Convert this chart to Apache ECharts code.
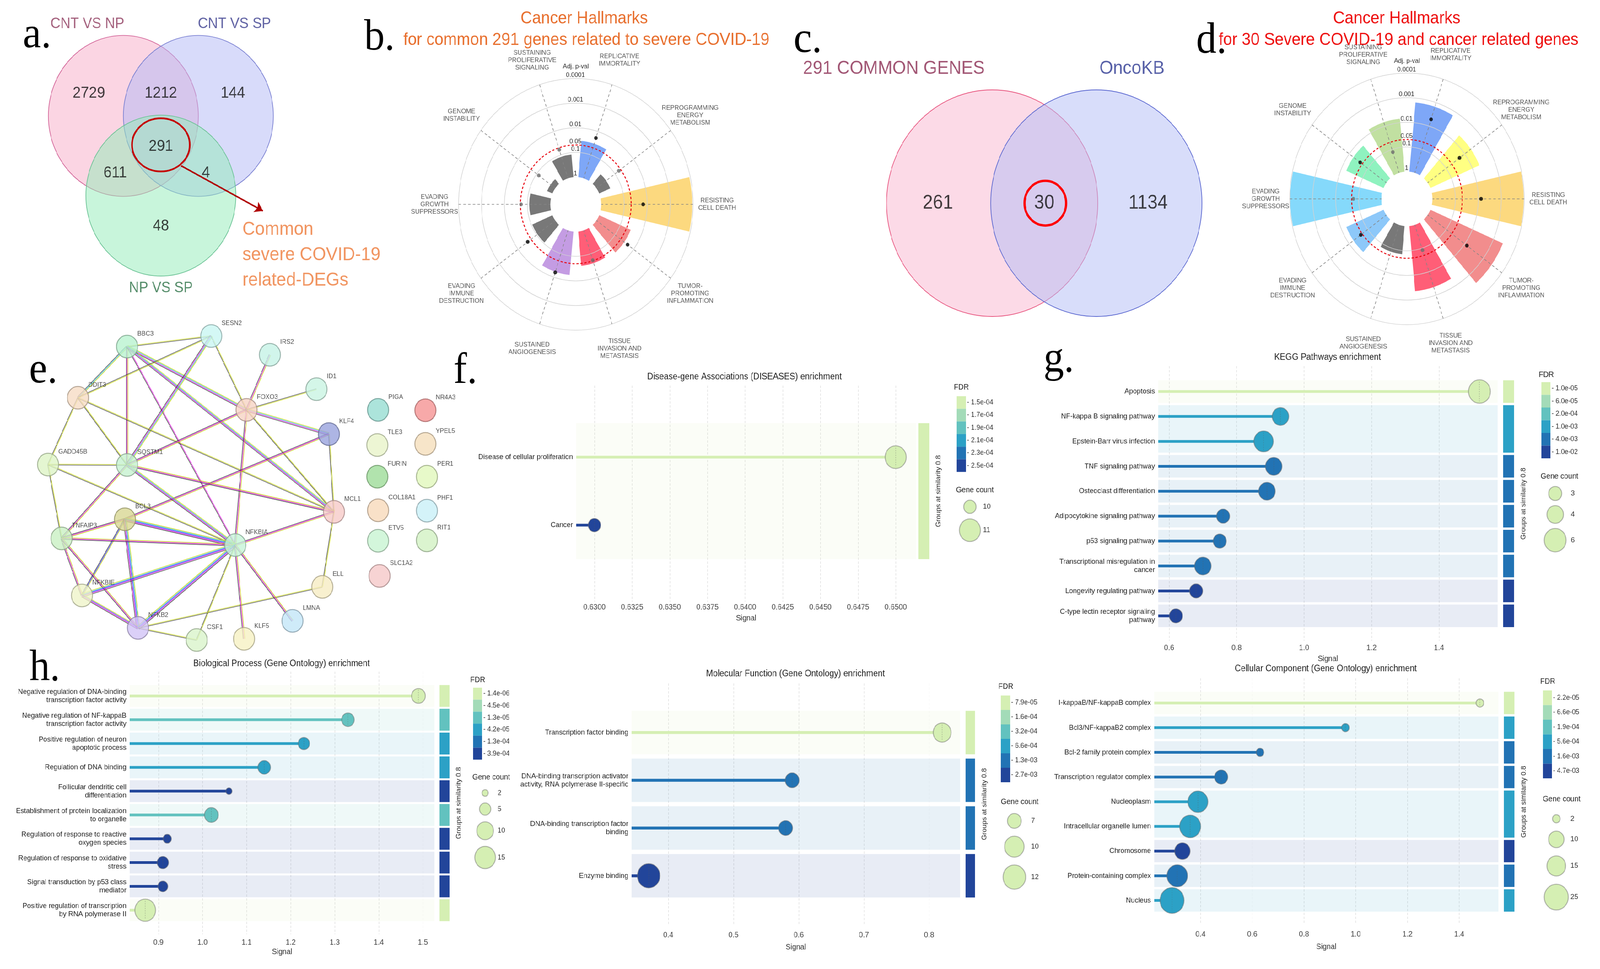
<!DOCTYPE html>
<html><head><meta charset="utf-8">
<script src="https://cdn.jsdelivr.net/npm/echarts@6/dist/echarts.min.js"></script>
<style>html,body{margin:0;padding:0;background:#fff;overflow:hidden}#chart{width:4393px;height:2480px}</style>
</head><body><div id="chart"></div>
<script>
// ================= DATA =================
// a. three-set Venn
const vennASetNames = ['CNT VS NP', 'CNT VS SP', 'NP VS SP'];
// regions: A only, A∩B, B only, A∩B∩C, A∩C, B∩C, C only
const vennARegionCounts = [2729, 1212, 144, 291, 611, 4, 48];
const vennACallout = 'Common\nsevere COVID-19\nrelated-DEGs';
// c. two-set Venn
const vennCSetNames = ['291 COMMON GENES', 'OncoKB'];
const vennCRegionCounts = [261, 30, 1134];
// b./d. cancer hallmarks (adjusted p-values)
const hallmarkNames = ['REPLICATIVE\nIMMORTALITY', 'REPROGRAMMING\nENERGY\nMETABOLISM', 'RESISTING\nCELL DEATH',
  'TUMOR-\nPROMOTING\nINFLAMMATION', 'TISSUE\nINVASION AND\nMETASTASIS', 'SUSTAINED\nANGIOGENESIS',
  'EVADING\nIMMUNE\nDESTRUCTION', 'EVADING\nGROWTH\nSUPPRESSORS', 'GENOME\nINSTABILITY', 'SUSTAINING\nPROLIFERATIVE\nSIGNALING'];
const hallmarkBarPB = [0.033, 0.30, 0.00011, 0.032, 0.040, 0.017, 0.11, 0.12, 0.56, 0.12];
const hallmarkDotPB = [0.019, 0.062, 0.015, 0.021, 0.053, 0.016, 0.033, 0.053, 0.13, 0.060];
const hallmarkBarPD = [0.0015, 0.0047, 0.000105, 0.00036, 0.0022, 0.071, 0.017, 0.000105, 0.017, 0.0069];
const hallmarkDotPD = [0.0052, 0.019, 0.0076, 0.0076, 0.083, null, 0.042, 0.060, 0.039, 0.13];
const pValueTicks = [1, 0.1, 0.05, 0.01, 0.001, 0.0001];
// e. PPI network
const ppiGenes = ['BBC3','SESN2','IRS2','ID1','DDIT3','FOXO3','KLF4','GADD45B','SQSTM1','MCL1','BCL3','TNFAIP3','NFKBIA','NFKBIE','ELL','NFKB2','LMNA','CSF1','KLF5',
  'PIGA','NR4A3','TLE3','YPEL5','FURIN','PER1','COL18A1','PHF1','ETV5','RIT1','SLC1A2'];
const ppiX = [34.9, 58.0, 74.1, 86.9, 21.4, 67.7, 90.3, 13.2, 34.9, 91.7, 34.3, 16.9, 64.6, 22.5, 88.5, 37.9, 80.3, 54.0, 67.0,
  103.8, 116.8, 103.6, 116.8, 103.6, 117.2, 103.8, 117.2, 103.8, 117.2, 104.2];
const ppiY = [8.7, 6.0, 10.8, 19.6, 21.8, 24.9, 31.1, 38.9, 39.0, 51.0, 52.9, 57.8, 59.5, 72.4, 70.2, 80.7, 78.9, 83.8, 83.5,
  24.9, 25.0, 33.9, 33.6, 42.0, 42.0, 50.6, 50.7, 58.4, 58.3, 67.4];
// evidence: t text-mining, c databases, b co-occurrence, m experiments, k co-expression
const ppiEdges = [
  ['BBC3','SESN2','tk'], ['BBC3','DDIT3','tck'], ['BBC3','SQSTM1','tmk'], ['BBC3','FOXO3','tcmk'], ['BBC3','MCL1','tcmk'], ['BBC3','NFKBIA','mk'],
  ['SESN2','DDIT3','tk'], ['SESN2','SQSTM1','tcmk'], ['SESN2','FOXO3','tk'], ['DDIT3','GADD45B','tk'], ['DDIT3','SQSTM1','tk'], ['DDIT3','MCL1','tk'],
  ['IRS2','FOXO3','tmk'], ['ID1','FOXO3','tk'], ['FOXO3','KLF4','tcmk'], ['FOXO3','SQSTM1','tmk'], ['FOXO3','NFKBIA','tmk'], ['FOXO3','MCL1','tk'],
  ['KLF4','MCL1','tk'], ['KLF4','BCL3','tmk'], ['GADD45B','SQSTM1','tk'], ['GADD45B','TNFAIP3','tk'], ['GADD45B','NFKBIA','tk'],
  ['SQSTM1','MCL1','tmk'], ['SQSTM1','NFKBIA','tcmk'], ['SQSTM1','TNFAIP3','tmk'], ['MCL1','NFKBIA','tmk'], ['MCL1','ELL','tk'],
  ['BCL3','NFKBIA','tcbmk'], ['BCL3','TNFAIP3','tmk'], ['BCL3','NFKBIE','tbk'], ['BCL3','NFKB2','tcbmk'], ['TNFAIP3','NFKBIA','tmk'],
  ['TNFAIP3','NFKBIE','tmk'], ['TNFAIP3','NFKB2','tmk'], ['NFKBIE','NFKBIA','tcbmk'], ['NFKBIE','NFKB2','tbmk'], ['NFKB2','NFKBIA','tcbmk'],
  ['NFKB2','ELL','tk'], ['NFKB2','CSF1','tk'], ['NFKBIA','CSF1','tk'], ['NFKBIA','KLF5','tmk'], ['NFKBIA','LMNA','tmk']
];
// f. DISEASES
const diseaseTerms = ['Disease of cellular proliferation', 'Cancer'];
const diseaseSignal = [0.650, 0.630];
const diseaseFDR = [1.5e-4, 2.5e-4];
const diseaseCount = [11, 10];
const diseaseGroup = [0, 0];
const diseaseFdrTicks = [1.5e-4, 1.7e-4, 1.9e-4, 2.1e-4, 2.3e-4, 2.5e-4];
const diseaseCountTicks = [10, 11];
const diseaseSignalTicks = [0.63, 0.6325, 0.635, 0.6375, 0.64, 0.6425, 0.645, 0.6475, 0.65];
// g. KEGG
const keggTerms = ['Apoptosis', 'NF-kappa B signaling pathway', 'Epstein-Barr virus infection', 'TNF signaling pathway', 'Osteoclast differentiation',
  'Adipocytokine signaling pathway', 'p53 signaling pathway', 'Transcriptional misregulation in\ncancer', 'Longevity regulating pathway', 'C-type lectin receptor signaling\npathway'];
const keggSignal = [1.52, 0.93, 0.88, 0.91, 0.89, 0.76, 0.75, 0.70, 0.68, 0.62];
const keggFDR = [1.0e-5, 1.0e-3, 1.0e-3, 4.0e-3, 4.0e-3, 4.0e-3, 4.0e-3, 4.0e-3, 1.0e-2, 1.0e-2];
const keggCount = [6, 4, 5, 4, 4, 3, 3, 4, 3, 3];
const keggGroup = [0, 1, 1, 2, 3, 4, 5, 6, 7, 8];
const keggFdrTicks = [1.0e-5, 6.0e-5, 2.0e-4, 1.0e-3, 4.0e-3, 1.0e-2];
const keggCountTicks = [3, 4, 6];
const keggSignalTicks = [0.6, 0.8, 1.0, 1.2, 1.4];
// h. GO Biological Process
const bpTerms = ['Negative regulation of DNA-binding\ntranscription factor activity', 'Negative regulation of NF-kappaB\ntranscription factor activity',
  'Positive regulation of neuron\napoptotic process', 'Regulation of DNA binding', 'Follicular dendritic cell\ndifferentiation',
  'Establishment of protein localization\nto organelle', 'Regulation of response to reactive\noxygen species', 'Regulation of response to oxidative\nstress',
  'Signal transduction by p53 class\nmediator', 'Positive regulation of transcription\nby RNA polymerase II'];
const bpSignal = [1.49, 1.33, 1.23, 1.14, 1.06, 1.02, 0.92, 0.91, 0.91, 0.87];
const bpFDR = [1.4e-6, 1.3e-5, 4.2e-5, 4.2e-5, 3.9e-4, 1.3e-5, 3.9e-4, 3.9e-4, 3.9e-4, 1.4e-6];
const bpCount = [7, 6, 5, 6, 2, 7, 3, 5, 4, 15];
const bpGroup = [0, 1, 2, 3, 4, 5, 6, 7, 8, 9];
const bpFdrTicks = [1.4e-6, 4.5e-6, 1.3e-5, 4.2e-5, 1.3e-4, 3.9e-4];
const bpCountTicks = [2, 5, 10, 15];
const bpSignalTicks = [0.9, 1.0, 1.1, 1.2, 1.3, 1.4, 1.5];
// h. GO Molecular Function
const mfTerms = ['Transcription factor binding', 'DNA-binding transcription activator\nactivity, RNA polymerase II-specific',
  'DNA-binding transcription factor\nbinding', 'Enzyme binding'];
const mfSignal = [0.82, 0.59, 0.58, 0.37];
const mfFDR = [7.9e-5, 1.3e-3, 1.3e-3, 2.7e-3];
const mfCount = [9, 7, 7, 12];
const mfGroup = [0, 1, 2, 3];
const mfFdrTicks = [7.9e-5, 1.6e-4, 3.2e-4, 6.6e-4, 1.3e-3, 2.7e-3];
const mfCountTicks = [7, 10, 12];
const mfSignalTicks = [0.4, 0.5, 0.6, 0.7, 0.8];
// h. GO Cellular Component
const ccTerms = ['I-kappaB/NF-kappaB complex', 'Bcl3/NF-kappaB2 complex', 'Bcl-2 family protein complex', 'Transcription regulator complex',
  'Nucleoplasm', 'Intracellular organelle lumen', 'Chromosome', 'Protein-containing complex', 'Nucleus'];
const ccSignal = [1.48, 0.96, 0.63, 0.48, 0.39, 0.36, 0.33, 0.31, 0.29];
const ccFDR = [2.2e-5, 5.6e-4, 1.6e-3, 1.6e-3, 5.6e-4, 5.6e-4, 4.7e-3, 1.6e-3, 5.6e-4];
const ccCount = [2, 2, 2, 7, 17, 19, 10, 18, 25];
const ccGroup = [0, 1, 2, 3, 4, 4, 5, 6, 7];
const ccFdrTicks = [2.2e-5, 6.6e-5, 1.9e-4, 5.6e-4, 1.6e-3, 4.7e-3];
const ccCountTicks = [2, 10, 15, 25];
const ccSignalTicks = [0.4, 0.6, 0.8, 1.0, 1.2, 1.4];

// ================= STYLE / LAYOUT =================
const PAGE_W = 4393, PAGE_H = 2480;
const FONT = '"Liberation Sans", Arial, Helvetica, sans-serif';
const SERIF = '"Liberation Serif", "Times New Roman", serif';
const fdrPalette = ['#D5EFB3', '#A3DBB8', '#62C2BF', '#2CA1C6', '#2273B4', '#22459A'];
const hallmarkColors = ['#7EA7F7', '#FFFF82', '#FCD97F', '#F28D8D', '#FF5E77', '#C49CE3', '#8DC8F9', '#85D9FB', '#8FF2BF', '#C1E0A1'];
const nodeFill = {BBC3:'#B9F2CF', SESN2:'#C9F6F2', IRS2:'#C6F3E6', ID1:'#C9F4E2', DDIT3:'#F6DCC4', FOXO3:'#F6D3C4', KLF4:'#98A2DD', GADD45B:'#DDF4C6',
  SQSTM1:'#C6F1CF', MCL1:'#F6CBC8', BCL3:'#D8D794', TNFAIP3:'#C9F0C3', NFKBIA:'#C5F4D8', NFKBIE:'#EFF4C9', ELL:'#F6ECC3', NFKB2:'#D2C4F6', LMNA:'#C3E6F8',
  CSF1:'#D9F4CB', KLF5:'#F6F1C3', PIGA:'#97DDD2', NR4A3:'#F59494', TLE3:'#E8F4C9', YPEL5:'#F5DEBB', FURIN:'#9EDC98', PER1:'#E1F7BC', COL18A1:'#F7D9BA',
  PHF1:'#C9F0F7', ETV5:'#C8F4D2', RIT1:'#D2F1C3', SLC1A2:'#F5C8C8'};
const evidenceColor = {t:'#C3D400', c:'#19B2D6', b:'#3333F2', m:'#E000E0', k:'#3a3a3a'};

function darken(hex, f) {
  const n = parseInt(hex.slice(1), 16);
  return 'rgb(' + Math.round(((n >> 16) & 255) * f) + ',' + Math.round(((n >> 8) & 255) * f) + ',' + Math.round((n & 255) * f) + ')';
}
function fmtE(t) {
  const parts = t.toExponential(1).split('e');
  const e = parseInt(parts[1], 10);
  return parts[0] + 'e' + (e < 0 ? '-' : '+') + String(Math.abs(e)).padStart(2, '0');
}

const option = {
  backgroundColor: '#ffffff', animation: false,
  textStyle: {fontFamily: FONT},
  title: [], grid: [], xAxis: [], yAxis: [], polar: [], angleAxis: [], radiusAxis: [], visualMap: [], series: []
};

function addText(text, x, y, size, color, o) {
  o = o || {};
  option.title.push({text: text, left: x, top: y, padding: 0, textAlign: o.align || 'left', textVerticalAlign: o.valign || 'middle',
    textStyle: {fontSize: size, color: color, fontWeight: o.weight || 'normal', fontFamily: o.family || FONT, lineHeight: o.lineHeight}});
}
function addGrid(box, xr, yr, yInverse) {
  const gi = option.grid.length;
  option.grid.push(box);
  option.xAxis.push({gridIndex: gi, type: 'value', min: xr[0], max: xr[1], show: false});
  option.yAxis.push({gridIndex: gi, type: 'value', min: yr[0], max: yr[1], inverse: !!yInverse, show: false});
  return gi;
}

// ---- panel letters ----
[['a.', 63, 92], ['b.', 1000, 98], ['c.', 2179, 104], ['d.', 3284, 106], ['e.', 80, 950], ['f.', 1245, 951], ['g.', 2865, 922], ['h.', 81, 1712]]
  .forEach(l => addText(l[0], l[1], l[2], 112, '#000', {family: SERIF}));

// ================= a. Venn =================
(function () {
  const gi = addGrid({left: 1, top: 0, width: 1038, height: 791}, [-1.64, 3.40], [-2.4, 1.44], false);
  const geom = [[0, 0], [1.0, 0], [0.5, -0.99]];
  const fills = ['rgba(247,172,200,0.5)', 'rgba(177,183,245,0.5)', 'rgba(145,235,183,0.5)'];
  const strokes = ['#D3679A', '#7C82D2', '#6BC295'];
  option.series.push({type: 'custom', xAxisIndex: gi, yAxisIndex: gi, silent: true, z: 1,
    data: geom.map(g => [g[0], g[1]]),
    renderItem: (params, api) => {
      const p = api.coord([api.value(0), api.value(1)]);
      const r = api.size([1, 0])[0];
      return {type: 'circle', shape: {cx: p[0], cy: p[1], r: r}, style: {fill: fills[params.dataIndex], stroke: strokes[params.dataIndex], lineWidth: 1.8}};
    }});
  option.series.push({type: 'custom', xAxisIndex: gi, yAxisIndex: gi, silent: true, z: 3, data: [[0.5, -0.36]],
    renderItem: (params, api) => {
      const p = api.coord([api.value(0), api.value(1)]);
      return {type: 'ellipse', shape: {cx: p[0], cy: p[1], rx: api.size([0.385, 0])[0], ry: api.size([0, 0.33])[1]}, style: {fill: 'none', stroke: '#C40000', lineWidth: 4.5}};
    }});
  option.series.push({type: 'lines', coordinateSystem: 'cartesian2d', xAxisIndex: gi, yAxisIndex: gi, z: 3, silent: true,
    symbol: ['none', 'arrow'], symbolSize: 22, lineStyle: {color: '#B00000', width: 4, opacity: 1},
    data: [{coords: [[0.77, -0.62], [1.86, -1.18]]}]});
  const setPos = [[-0.48, 1.14], [1.48, 1.14], [0.5, -2.14]];
  const setCol = ['#8E3B5E', '#3C3F8F', '#2A7045'];
  const regPos = [[-0.46, 0.28], [0.5, 0.28], [1.46, 0.28], [0.5, -0.38], [-0.11, -0.71], [1.1, -0.71], [0.5, -1.37]];
  const labels = [];
  vennASetNames.forEach((s, i) => labels.push({value: setPos[i], name: s, label: {color: setCol[i], fontSize: 38}}));
  vennARegionCounts.forEach((c, i) => labels.push({value: regPos[i], name: String(c), label: {color: '#111', fontSize: 40}}));
  labels.push({value: [1.587, -1.255], name: vennACallout, label: {color: '#EE7B3A', fontSize: 48, align: 'left', verticalAlign: 'top', lineHeight: 65}});
  option.series.push({type: 'scatter', xAxisIndex: gi, yAxisIndex: gi, symbolSize: 0, z: 5, silent: true, data: labels,
    label: {show: true, position: 'inside', formatter: p => p.name, fontFamily: FONT}});
})();

// ================= c. Venn =================
(function () {
  const gi = addGrid({left: 2150, top: 128.5, width: 1160, height: 701.8}, [-1.98, 2.02], [-1.07, 1.35], false);
  const geom = [[0, 0], [0.986, 0]];
  const fills = ['rgba(250,182,207,0.5)', 'rgba(177,188,245,0.5)'];
  const strokes = ['#E8557F', '#5A67D0'];
  option.series.push({type: 'custom', xAxisIndex: gi, yAxisIndex: gi, silent: true, z: 1, data: geom,
    renderItem: (params, api) => {
      const p = api.coord([api.value(0), api.value(1)]);
      return {type: 'circle', shape: {cx: p[0], cy: p[1], r: api.size([1, 0])[0]}, style: {fill: fills[params.dataIndex], stroke: strokes[params.dataIndex], lineWidth: 1.8}};
    }});
  option.series.push({type: 'custom', xAxisIndex: gi, yAxisIndex: gi, silent: true, z: 3, data: [[0.503, 0]],
    renderItem: (params, api) => {
      const p = api.coord([api.value(0), api.value(1)]);
      return {type: 'circle', shape: {cx: p[0], cy: p[1], r: api.size([0.197, 0])[0]}, style: {fill: 'none', stroke: '#FF0000', lineWidth: 6}};
    }});
  const setPos = [[-0.931, 1.186], [1.324, 1.186]];
  const setCol = ['#8B2D52', '#2E3A92'];
  const regPos = [[-0.514, 0], [0.493, 0], [1.476, 0]];
  const labels = [];
  vennCSetNames.forEach((s, i) => labels.push({value: setPos[i], name: s, label: {color: setCol[i], fontSize: 48}}));
  vennCRegionCounts.forEach((c, i) => labels.push({value: regPos[i], name: String(c), label: {color: '#111', fontSize: 50}}));
  option.series.push({type: 'scatter', xAxisIndex: gi, yAxisIndex: gi, symbolSize: 0, z: 5, silent: true, data: labels,
    label: {show: true, position: 'inside', formatter: p => p.name, fontFamily: FONT}});
})();

// ================= b./d. hallmark polar charts =================
function hallmarkPolar(cx, cy, barP, dotP) {
  const R0 = 70, R1 = 322, LABEL_R = 388, maxScore = 4;
  const score = p => -Math.log10(p);
  const sig = score(0.05);
  const pi = option.polar.length;
  option.polar.push({center: [cx, cy], radius: [R0, R1]});
  option.angleAxis.push({polarIndex: pi, type: 'category', data: hallmarkNames, startAngle: 90, clockwise: true, boundaryGap: true,
    axisLine: {show: false}, axisTick: {show: false}, splitLine: {show: false}, axisLabel: {show: false}});
  option.radiusAxis.push({polarIndex: pi, type: 'value', min: 0, max: maxScore,
    axisLine: {show: false}, axisTick: {show: false, customValues: [1, 2, 3, 4]},
    splitLine: {show: true, lineStyle: {color: '#d2d2d2', width: 1.5}},
    axisLabel: {customValues: pValueTicks.map(score), margin: 1, align: 'center', verticalAlign: 'bottom', fontSize: 17, color: '#2b2b2b',
      formatter: v => { let best = pValueTicks[0]; pValueTicks.forEach(p => { if (Math.abs(score(p) - v) < Math.abs(score(best) - v)) best = p; }); return String(best); }},
    name: 'Adj. p-val', nameLocation: 'end', nameGap: 22, nameTextStyle: {fontSize: 17, color: '#2b2b2b'}, z: 4});
  // dashed spokes through the category centres
  const si = option.polar.length;
  option.polar.push({center: [cx, cy], radius: [R0, R1]});
  option.angleAxis.push({polarIndex: si, type: 'category', data: hallmarkNames, startAngle: 90 - 180 / hallmarkNames.length, clockwise: true, boundaryGap: true,
    axisLine: {show: false}, axisTick: {show: false}, axisLabel: {show: false},
    splitLine: {show: true, lineStyle: {color: '#858585', type: [7, 6], width: 1.6}}, z: 5});
  option.radiusAxis.push({polarIndex: si, type: 'value', min: 0, max: maxScore, show: false});
  // significance ring at adj. p = 0.05
  const ri = option.polar.length;
  option.polar.push({center: [cx, cy], radius: [0, R0 + (R1 - R0) * sig / maxScore]});
  option.angleAxis.push({polarIndex: ri, type: 'value', min: 0, max: 360, axisTick: {show: false}, axisLabel: {show: false}, splitLine: {show: false},
    axisLine: {show: true, lineStyle: {color: '#E8000B', type: [6, 5], width: 2.5}}, z: 5});
  option.radiusAxis.push({polarIndex: ri, type: 'value', min: 0, max: 1, show: false});
  // hallmark name ring (labels centred on each category direction)
  const li = option.polar.length;
  option.polar.push({center: [cx, cy], radius: [0, LABEL_R]});
  option.angleAxis.push({polarIndex: li, type: 'category', data: hallmarkNames, startAngle: 90, clockwise: true, boundaryGap: true, show: false});
  option.radiusAxis.push({polarIndex: li, type: 'value', min: 0, max: 1, show: false});
  option.series.push({type: 'scatter', coordinateSystem: 'polar', polarIndex: li, symbolSize: 0, silent: true, z: 6,
    data: hallmarkNames.map((n, i) => ({value: [1, i], name: n})),
    label: {show: true, position: 'inside', formatter: p => p.name, fontSize: 17, lineHeight: 19, color: '#2b2b2b', align: 'center', verticalAlign: 'middle', fontFamily: FONT}});
  option.series.push({type: 'bar', coordinateSystem: 'polar', polarIndex: pi, barCategoryGap: '30%', z: 2, silent: true,
    data: barP.map(score),
    itemStyle: {color: p => p.value > sig ? hallmarkColors[p.dataIndex] : '#787878'}});
  const dots = [];
  dotP.forEach((p, i) => { if (p != null) dots.push([score(p), i]); });
  option.series.push({type: 'scatter', coordinateSystem: 'polar', polarIndex: pi, symbolSize: 10, z: 6, silent: true, data: dots,
    itemStyle: {color: p => p.value[0] > sig ? '#000000' : '#6f6f6f'}});
}
hallmarkPolar(1581, 523, hallmarkBarPB, hallmarkDotPB);
hallmarkPolar(3863, 509, hallmarkBarPD, hallmarkDotPD);
addText('Cancer Hallmarks', 1604, 48, 44, '#E8702F', {align: 'center'});
addText('for common 291 genes related to severe COVID-19', 1610, 103, 44, '#E8702F', {align: 'center'});
addText('Cancer Hallmarks', 3835, 48, 44, '#EE1111', {align: 'center'});
addText('for 30 Severe COVID-19 and cancer related genes', 3840, 103, 44, '#EE1111', {align: 'center'});

// ================= e. network =================
(function () {
  const gi = addGrid({left: 0, top: 800, width: 1250, height: 850}, [0, 125], [0, 85], true);
  const idx = {};
  ppiGenes.forEach((g, i) => { idx[g] = i; });
  option.series.push({type: 'custom', xAxisIndex: gi, yAxisIndex: gi, silent: true, z: 1,
    data: ppiEdges.map(e => [idx[e[0]], idx[e[1]]]),
    renderItem: (params, api) => {
      const e = ppiEdges[params.dataIndex];
      const i0 = idx[e[0]], i1 = idx[e[1]];
      const a = api.coord([ppiX[i0], ppiY[i0]]), b = api.coord([ppiX[i1], ppiY[i1]]);
      const dx = b[0] - a[0], dy = b[1] - a[1], len = Math.hypot(dx, dy);
      const nx = -dy / len, ny = dx / len;
      const ev = e[2].split(''), k = ev.length, sp = 2.3;
      return {type: 'group', children: ev.map((c, j) => {
        const o = (j - (k - 1) / 2) * sp;
        return {type: 'line', shape: {x1: a[0] + nx * o, y1: a[1] + ny * o, x2: b[0] + nx * o, y2: b[1] + ny * o},
          style: {stroke: evidenceColor[c], lineWidth: c === 'b' ? 1.9 : 1.4, opacity: c === 'b' ? 0.8 : 0.95}};
      })};
    }});
  option.series.push({type: 'scatter', xAxisIndex: gi, yAxisIndex: gi, symbolSize: 58, z: 3, silent: true,
    data: ppiGenes.map((g, i) => ({value: [ppiX[i], ppiY[i]], name: g,
      itemStyle: {color: nodeFill[g], borderColor: darken(nodeFill[g], 0.68), borderWidth: 2.5}})),
    label: {show: true, position: 'right', distance: 0, offset: [-2, -33], formatter: p => p.name, fontSize: 17, color: '#222', fontFamily: FONT}});
})();

// ================= lollipop enrichment panels =================
function lollipop(c) {
  const gi = option.grid.length;
  const rows = c.terms.map((_, i) => i);
  const cmin = Math.min.apply(null, c.count), cmax = Math.max.apply(null, c.count);
  const a = c.sizeRange[0], b = c.sizeRange[1];
  const sizeOf = k => Math.sqrt(a * a + (b * b - a * a) * Math.max(0, (k - cmin)) / (cmax - cmin));
  option.grid.push({left: c.left, top: c.top, width: c.width, height: c.height});
  option.xAxis.push({gridIndex: gi, type: 'value', min: c.xMin, max: c.xMax,
    axisLine: {show: false}, axisTick: {show: false, customValues: c.xTicks},
    axisLabel: {customValues: c.xTicks, formatter: v => v.toFixed(c.dec), fontSize: 20, color: '#444', margin: c.labelMargin},
    splitLine: {show: true, lineStyle: {color: '#d8d8d8', type: [6, 4], width: 1.2}},
    name: 'Signal', nameLocation: 'middle', nameGap: c.nameGap, nameTextStyle: {fontSize: 20, color: '#333'}});
  option.yAxis.push({gridIndex: gi, type: 'value', inverse: true, min: c.yMin, max: c.yMax,
    axisLine: {show: false}, axisTick: {show: false, customValues: rows}, splitLine: {show: false},
    axisLabel: {customValues: rows, formatter: v => c.terms[Math.round(v)], fontSize: 19, lineHeight: 21, color: '#222', margin: 9}});
  const groups = [];
  c.group.forEach((g, i) => {
    const last = groups[groups.length - 1];
    if (last && last.id === g) last.end = i; else groups.push({id: g, start: i, end: i});
  });
  const n = c.terms.length;
  const s0 = option.series.length;
  option.series.push({type: 'custom', xAxisIndex: gi, yAxisIndex: gi, silent: true, z: 1,
    data: groups.map(g => [g.start, g.end, c.fdr[g.start]]),
    renderItem: (params, api) => {
      const cs = params.coordSys;
      const y0 = api.coord([c.xMin, api.value(0) - 0.5])[1] + c.inset;
      const y1 = api.coord([c.xMin, api.value(1) + 0.5])[1] - c.inset;
      const col = api.visual('color');
      const gx = cs.x + cs.width + c.gbGap;
      const children = [
        {type: 'rect', shape: {x: cs.x, y: y0, width: cs.width, height: y1 - y0}, style: {fill: col, opacity: 0.1}},
        {type: 'rect', shape: {x: gx, y: y0, width: c.gbW, height: y1 - y0}, style: {fill: col}}
      ];
      if (params.dataIndex === 0) {
        const t = api.coord([c.xMin, -0.5])[1], bt = api.coord([c.xMin, n - 0.5])[1];
        children.push({type: 'text', x: gx + c.gbW + 26, y: (t + bt) / 2, rotation: Math.PI / 2,
          style: {text: 'Groups at similarity 0.8', fill: '#222', font: '18px ' + FONT, align: 'center', verticalAlign: 'middle', textAlign: 'center', textVerticalAlign: 'middle'}});
      }
      return {type: 'group', children: children};
    }});
  option.series.push({type: 'custom', xAxisIndex: gi, yAxisIndex: gi, silent: true, z: 2,
    data: rows.map(i => [c.signal[i], i, c.fdr[i]]),
    renderItem: (params, api) => {
      const cs = params.coordSys;
      const p = api.coord([api.value(0), api.value(1)]);
      return {type: 'rect', shape: {x: cs.x, y: p[1] - c.stick / 2, width: p[0] - cs.x, height: c.stick}, style: {fill: api.visual('color')}};
    }});
  option.series.push({type: 'scatter', xAxisIndex: gi, yAxisIndex: gi, silent: true, z: 3,
    data: rows.map(i => [c.signal[i], i, c.fdr[i], c.count[i]]),
    symbolSize: v => sizeOf(v[3]),
    itemStyle: {borderColor: 'rgba(105,105,105,0.45)', borderWidth: 2.6, opacity: 1}});
  // thin dashed marker at the exact signal value inside each circle
  option.series.push({type: 'custom', xAxisIndex: gi, yAxisIndex: gi, silent: true, z: 4,
    data: rows.map(i => [c.signal[i], i, c.count[i]]),
    renderItem: (params, api) => {
      const p = api.coord([api.value(0), api.value(1)]);
      const h = sizeOf(api.value(2)) * 0.42;
      return {type: 'line', shape: {x1: p[0], y1: p[1] - h, x2: p[0], y2: p[1] + h}, style: {stroke: 'rgba(90,90,90,0.45)', lineWidth: 1.2, lineDash: [3, 3]}};
    }});
  const m = c.fdrTicks.length;
  option.visualMap.push({type: 'piecewise', seriesIndex: [s0, s0 + 1, s0 + 2], dimension: 2, orient: 'vertical', inverse: true,
    left: c.fdrBox.left, top: c.fdrBox.top, itemWidth: 25, itemHeight: c.fdrBox.itemH, itemGap: 0, itemSymbol: 'rect',
    align: 'left', textGap: 3, padding: 0, showLabel: true, hoverLink: false, selectedMode: false,
    textStyle: {fontSize: 18, color: '#333', fontFamily: FONT},
    pieces: c.fdrTicks.map((t, i) => ({min: i === 0 ? 0 : Math.sqrt(c.fdrTicks[i - 1] * t), max: i === m - 1 ? 1 : Math.sqrt(t * c.fdrTicks[i + 1]),
      label: '- ' + fmtE(t), color: fdrPalette[i]}))});
  addText('FDR', c.fdrBox.titleX, c.fdrBox.titleY, 20, '#222');
  addText(c.title, c.titleX, c.titleY, 23, '#222', {align: 'center'});
  const L = c.countBox;
  const sizes = c.countTicks.map(sizeOf);
  option.series.push({type: 'custom', coordinateSystem: 'none', silent: true, z: 3,
    data: c.countTicks.map(k => [k]),
    renderItem: (params, api) => {
      const i = params.dataIndex;
      let y = L.top;
      for (let k = 0; k < i; k++) y += sizes[k] + L.gap;
      y += sizes[i] / 2;
      const ch = [
        {type: 'circle', shape: {cx: L.cx, cy: y, r: sizes[i] / 2}, style: {fill: '#D5EFB3', stroke: 'rgba(105,105,105,0.45)', lineWidth: 2.6}},
        {type: 'text', x: L.labelX, y: y, style: {text: String(c.countTicks[i]), fill: '#333', font: '19px ' + FONT, align: 'left', verticalAlign: 'middle', textAlign: 'left', textVerticalAlign: 'middle'}}
      ];
      if (i === 0) ch.push({type: 'text', x: L.titleX, y: L.titleY, style: {text: 'Gene count', fill: '#222', font: '20px ' + FONT, align: 'left', verticalAlign: 'middle', textAlign: 'left', textVerticalAlign: 'middle'}});
      return {type: 'group', children: ch};
    }});
}

lollipop({terms: diseaseTerms, signal: diseaseSignal, fdr: diseaseFDR, count: diseaseCount, group: diseaseGroup,
  fdrTicks: diseaseFdrTicks, countTicks: diseaseCountTicks, xTicks: diseaseSignalTicks, dec: 4,
  left: 1582, top: 987, width: 933, height: 553, xMin: 0.62879, xMax: 0.65135, yMin: -1.052, yMax: 2.126, labelMargin: 4, nameGap: 32,
  stick: 7, inset: 0, gbGap: 7, gbW: 29, sizeRange: [34, 58],
  title: 'Disease-gene Associations (DISEASES) enrichment', titleX: 2044, titleY: 965,
  fdrBox: {left: 2627, top: 1014, itemH: 32.3, titleX: 2619, titleY: 991},
  countBox: {cx: 2663, top: 1280, gap: 14, labelX: 2699, titleX: 2625, titleY: 1254}});

lollipop({terms: keggTerms, signal: keggSignal, fdr: keggFDR, count: keggCount, group: keggGroup,
  fdrTicks: keggFdrTicks, countTicks: keggCountTicks, xTicks: keggSignalTicks, dec: 1,
  left: 3180, top: 937, width: 932, height: 703, xMin: 0.5676, xMax: 1.5738, yMin: -1.02, yMax: 10.0, labelMargin: 8, nameGap: 36,
  stick: 7, inset: 3, gbGap: 15, gbW: 30, sizeRange: [36, 60],
  title: 'KEGG Pathways enrichment', titleX: 3645, titleY: 915,
  fdrBox: {left: 4232, top: 978, itemH: 32.5, titleX: 4225, titleY: 959},
  countBox: {cx: 4270, top: 1245, gap: 13, labelX: 4313, titleX: 4230, titleY: 1219}});

lollipop({terms: bpTerms, signal: bpSignal, fdr: bpFDR, count: bpCount, group: bpGroup,
  fdrTicks: bpFdrTicks, countTicks: bpCountTicks, xTicks: bpSignalTicks, dec: 1,
  left: 356, top: 1719, width: 837, height: 672, xMin: 0.8347, xMax: 1.5264, yMin: -1.02, yMax: 10.01, labelMargin: 11, nameGap: 35,
  stick: 7, inset: 2.5, gbGap: 14, gbW: 27, sizeRange: [17, 57],
  title: 'Biological Process (Gene Ontology) enrichment', titleX: 773, titleY: 1699,
  fdrBox: {left: 1299, top: 1760, itemH: 30.7, titleX: 1291, titleY: 1740},
  countBox: {cx: 1332, top: 2021, gap: 17, labelX: 1366, titleX: 1297, titleY: 1989}});

lollipop({terms: mfTerms, signal: mfSignal, fdr: mfFDR, count: mfCount, group: mfGroup,
  fdrTicks: mfFdrTicks, countTicks: mfCountTicks, xTicks: mfSignalTicks, dec: 1,
  left: 1734, top: 1749, width: 902, height: 617, xMin: 0.3437, xMax: 0.8475, yMin: -1.03, yMax: 4.02, labelMargin: 17, nameGap: 48,
  stick: 7.5, inset: 5.5, gbGap: 15, gbW: 26, sizeRange: [38, 62],
  title: 'Molecular Function (Gene Ontology) enrichment', titleX: 2184, titleY: 1725,
  fdrBox: {left: 2748, top: 1780, itemH: 37, titleX: 2741, titleY: 1757},
  countBox: {cx: 2785, top: 2082, gap: 20, labelX: 2831, titleX: 2748, titleY: 2052}});

lollipop({terms: ccTerms, signal: ccSignal, fdr: ccFDR, count: ccCount, group: ccGroup,
  fdrTicks: ccFdrTicks, countTicks: ccCountTicks, xTicks: ccSignalTicks, dec: 1,
  left: 3169, top: 1736, width: 945, height: 628, xMin: 0.221, xMax: 1.5514, yMin: -1.0, yMax: 8.94, labelMargin: 17, nameGap: 49,
  stick: 7, inset: 3, gbGap: 15, gbW: 29, sizeRange: [21, 66],
  title: 'Cellular Component (Gene Ontology) enrichment', titleX: 3640, titleY: 1712,
  fdrBox: {left: 4236, top: 1767, itemH: 37.5, titleX: 4229, titleY: 1744},
  countBox: {cx: 4273, top: 2085, gap: 21, labelX: 4312, titleX: 4236, titleY: 2045}});

// stretch the fixed-size figure onto the actual viewport if it differs from the page size
const host = document.getElementById('chart');
const sx = window.innerWidth / PAGE_W, sy = window.innerHeight / PAGE_H;
if (Math.abs(sx - 1) > 0.001 || Math.abs(sy - 1) > 0.001) {
  host.style.transformOrigin = '0 0';
  host.style.transform = 'scale(' + sx + ',' + sy + ')';
}
const chart = echarts.init(host, null, {renderer: 'canvas', width: PAGE_W, height: PAGE_H});
chart.setOption(option);
</script>
</body></html>
